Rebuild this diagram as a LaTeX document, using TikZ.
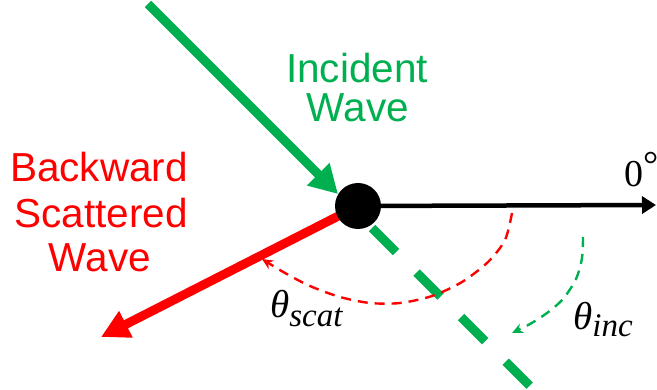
\documentclass[tikz,border=0pt]{standalone}
\usepackage{fontspec}
\usetikzlibrary{arrows.meta}
\newfontfamily\arialf{Liberation Sans}
\newfontfamily\tnrf{Liberation Serif}
\definecolor{pgreen}{HTML}{00B050}
\definecolor{pred}{HTML}{FF0000}
\begin{document}
\begin{tikzpicture}[x=1pt,y=-1pt,
  lbl/.style={inner sep=0pt, anchor=base},
  wavetxt/.style={lbl, font=\arialf\fontsize{40.5}{40}\selectfont},
  angtxt/.style={inner sep=0pt, anchor=base west, font=\tnrf\itshape},
  thickline/.style={line width=9pt},
  arcline/.style={line width=2.4pt, dash pattern=on 10pt off 7pt},
  smalltip/.style={-{Stealth[length=11pt,width=10pt]}},
]
\useasboundingbox (0,0) rectangle (657,390);
\coordinate (c) at (358,206);
\coordinate (inStart) at (148,4);
\coordinate (inTip) at (338,194);
\coordinate (dashStart) at (372,228);
\coordinate (dashEnd) at (534,390);
\coordinate (zeroEnd) at (656,205);
\coordinate (backTip) at (101,337);

% reference line to 0 degrees
\draw[line width=4.5pt, -{Triangle[length=14pt,width=17pt]}] (c) -- (zeroEnd);
% incident wave
\draw[pgreen, thickline, -{Triangle[length=28pt,width=30pt]}] (inStart) -- (inTip);
\draw[pgreen, thickline, dash pattern=on 34pt off 29pt] (dashStart) -- (dashEnd);
% backward scattered wave
\draw[pred, thickline, -{Triangle[length=28pt,width=28pt]}] (c) -- (backTip);
% scatter angle arc
\draw[pred, arcline, smalltip] plot[smooth] coordinates {(512,213) (505,240) (488,262) (462,282) (432,296) (400,303) (370,303) (340,297) (310,286) (285,273) (262,259)};
% incidence angle arc
\draw[pgreen, arcline, smalltip] plot[smooth] coordinates {(583,237) (582,258) (576,279) (563,299) (547,313) (530,324) (512,333)};

\node[circle, fill=black, minimum size=46pt, inner sep=0pt] (dot) at (c) {};

\node[wavetxt, text=pgreen] (inc1) at (357,83) {Incident};
\node[wavetxt, text=pgreen] (inc2) at (358,122) {Wave};
\node[wavetxt, text=pred] (bk1) at (99,182) {Backward};
\node[wavetxt, text=pred] (bk2) at (101,228) {Scattered};
\node[wavetxt, text=pred] (bk3) at (100,272) {Wave};

\node[angtxt] (tscat) at (270,318) {\fontsize{39}{39}\selectfont θ\raisebox{-9pt}{\fontsize{33}{33}\selectfont scat}};
\node[angtxt] (tinc) at (573,330) {\fontsize{39}{39}\selectfont θ\raisebox{-7pt}{\fontsize{33}{33}\selectfont inc}};
\node[lbl, anchor=base west, font=\tnrf] (zero) at (624,187) {\fontsize{38}{38}\selectfont 0\raisebox{9pt}{°}};
\end{tikzpicture}
\end{document}
